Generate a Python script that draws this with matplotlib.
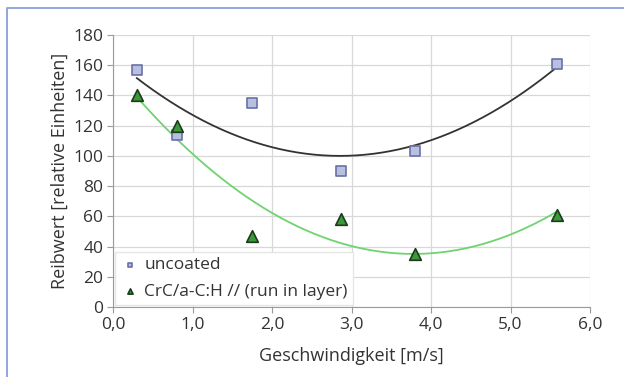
import numpy as np
import matplotlib.pyplot as plt
from matplotlib.lines import Line2D

plt.rcParams['font.family'] = ['Open Sans', 'DejaVu Sans']

# measured values
speed = [0.3, 0.8, 1.75, 2.87, 3.8, 5.58]
uncoated = [157, 114, 135, 90, 103, 161]
coated = [140, 120, 47, 58, 35, 61]

x_ticks = [0, 1, 2, 3, 4, 5, 6]
y_ticks = [0, 20, 40, 60, 80, 100, 120, 140, 160, 180]

fig = plt.figure(figsize=(6.24, 3.77), dpi=100)
ax = fig.add_axes([113 / 624, 1 - 307 / 377, 477 / 624, 272 / 377])

# frame lines (only left and top visible in the source)
fx = 7 / 624
fy = 1 - 8 / 377
fig.add_artist(Line2D([fx, fx, 1.0], [0.0, fy, fy], transform=fig.transFigure,
                      color='#8a9ee0', linewidth=1.3))

# polynomial (order 2) trend lines
xs = np.linspace(speed[0], speed[-1], 200)
p_unc = np.polyfit(speed, uncoated, 2)
p_coa = np.polyfit(speed, coated, 2)
ax.plot(xs, np.polyval(p_unc, xs), color='#333333', linewidth=1.3, zorder=2)
ax.plot(xs, np.polyval(p_coa, xs), color='#6fd36f', linewidth=1.3, zorder=2)

ax.scatter(speed, uncoated, marker='s', s=60, color='#b8c0e0',
           edgecolors='#6a70a8', linewidths=1.2, zorder=3, label='uncoated')
ax.scatter(speed, coated, marker='^', s=70, color='#3a9a3a',
           edgecolors='#1e3a1e', linewidths=1.2, zorder=3,
           label='CrC/a-C:H // (run in layer)')

ax.set_xlim(0, 6)
ax.set_ylim(0, 180)
ax.set_xticks(x_ticks)
ax.set_yticks(y_ticks)
ax.set_xticklabels([('%.1f' % v).replace('.', ',') for v in x_ticks])
ax.grid(True, color='#d8d8d8', linewidth=0.9)
ax.set_axisbelow(True)
for s in ['top', 'right']:
    ax.spines[s].set_visible(False)
for s in ['left', 'bottom']:
    ax.spines[s].set_color('#9a9a9a')
ax.tick_params(colors='#9a9a9a', labelcolor='#333333', labelsize=12.5,
               length=4, pad=3)

ax.set_xlabel('Geschwindigkeit [m/s]', fontsize=13, color='#333333',
              labelpad=10)
ax.set_ylabel('Reibwert [relative Einheiten]', fontsize=13, color='#333333',
              labelpad=3)

leg = ax.legend(loc='lower left', bbox_to_anchor=(0.0, 0.0), frameon=True,
                fancybox=False, facecolor='white', edgecolor='#e6e6e6',
                framealpha=1, fontsize=12.5, handletextpad=0.2,
                handlelength=1.2, markerscale=0.45, labelspacing=0.6,
                borderaxespad=0.1, borderpad=0.3)
leg.set_zorder(4)
for t in leg.get_texts():
    t.set_color('#333333')

fig.savefig('out.png', dpi=100)
